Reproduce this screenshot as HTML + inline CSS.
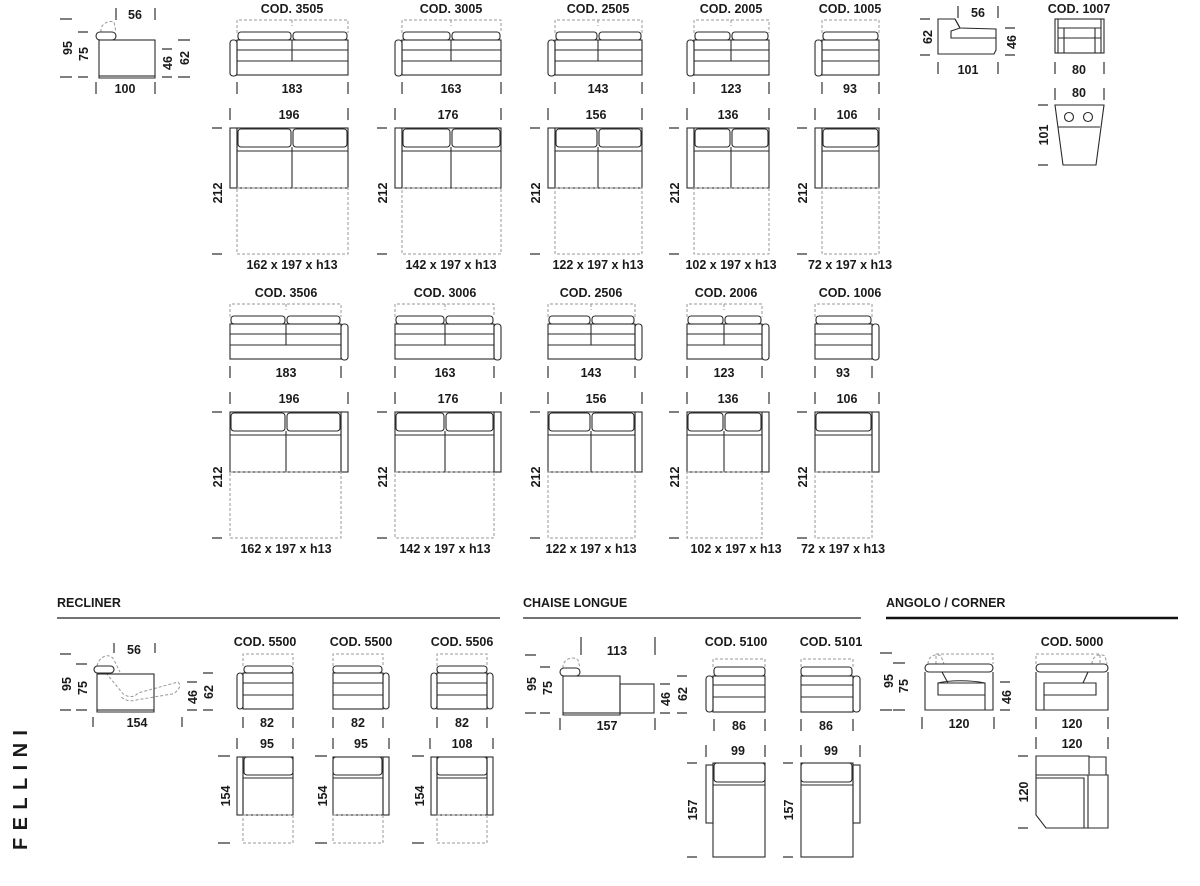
<!DOCTYPE html>
<html><head><meta charset="utf-8"><style>
html,body{margin:0;padding:0;background:#fff}
svg{display:block}
.s path,.s rect,.s circle,.s ellipse{fill:none;stroke:#2a2a2a;stroke-width:1.1}
.s .d{stroke:#999;stroke-dasharray:3 2;stroke-width:1}
.s .t{stroke:#333;stroke-width:1.2}
text{font-family:"Liberation Sans Narrow","Liberation Sans",sans-serif;font-weight:bold;font-size:12.5px;fill:#1a1a1a;text-anchor:middle}
.h{text-anchor:start;font-size:12.5px}
</style></head><body>
<svg class="s" width="1200" height="886" viewBox="0 0 1200 886" xmlns="http://www.w3.org/2000/svg">

<path class="t" d="M60 19H72M60 77H72M78 32H88M78 77H88M116 8V20M155 8V20M96 82V94M155 82V94M162 49H172M162 77H172M178 40H190M178 77H190"/>
<text transform="translate(72,48) rotate(-90)">95</text>
<text transform="translate(88,54) rotate(-90)">75</text>
<text x="135" y="19">56</text>
<text transform="translate(172,63) rotate(-90)">46</text>
<text transform="translate(189,58) rotate(-90)">62</text>
<text x="125" y="93">100</text>
<path class="d" d="M101 32C100 24 108 20 114 22L116 32"/>
<rect x="96" y="32" width="20" height="8" rx="4"/>
<rect x="99" y="40" width="56" height="36"/>
<path d="M99 76H155V78H99Z"/>

<g>
<text x="292" y="13">COD. 3505</text>
<path class="d" d="M237 33V20H348V33M292 20V26"/>
<rect x="238" y="32" width="53" height="8" rx="3"/><rect x="293" y="32" width="54" height="8" rx="3"/>
<rect x="237" y="40" width="111" height="35"/>
<path d="M237 50H348M237 61H348M292 40V61"/>
<rect x="230" y="40" width="7" height="36" rx="3"/>
<path class="t" d="M237 82V94M348 82V94M230 108V120M348 108V120M212 128H222M212 254H222"/>
<text x="292" y="93">183</text><text x="289" y="119">196</text>
<rect x="230" y="128" width="7" height="60"/><rect x="237" y="128" width="111" height="60"/>
<rect x="238" y="129" width="53" height="18" rx="3"/><rect x="293" y="129" width="54" height="18" rx="3"/>
<path d="M237 151H348M292 147V188"/>
<rect class="d" x="237" y="188" width="111" height="66"/>
<text transform="translate(222,193) rotate(-90)">212</text>
<text x="292" y="269">162 x 197 x h13</text>

<text x="451" y="13">COD. 3005</text>
<path class="d" d="M402 33V20H501V33M451 20V26"/>
<rect x="403" y="32" width="47" height="8" rx="3"/><rect x="452" y="32" width="48" height="8" rx="3"/>
<rect x="402" y="40" width="99" height="35"/>
<path d="M402 50H501M402 61H501M451 40V61"/>
<rect x="395" y="40" width="7" height="36" rx="3"/>
<path class="t" d="M402 82V94M501 82V94M395 108V120M501 108V120M377 128H387M377 254H387"/>
<text x="451" y="93">163</text><text x="448" y="119">176</text>
<rect x="395" y="128" width="7" height="60"/><rect x="402" y="128" width="99" height="60"/>
<rect x="403" y="129" width="47" height="18" rx="3"/><rect x="452" y="129" width="48" height="18" rx="3"/>
<path d="M402 151H501M451 147V188"/>
<rect class="d" x="402" y="188" width="99" height="66"/>
<text transform="translate(387,193) rotate(-90)">212</text>
<text x="451" y="269">142 x 197 x h13</text>

<text x="598" y="13">COD. 2505</text>
<path class="d" d="M555 33V20H642V33M598 20V26"/>
<rect x="556" y="32" width="41" height="8" rx="3"/><rect x="599" y="32" width="42" height="8" rx="3"/>
<rect x="555" y="40" width="87" height="35"/>
<path d="M555 50H642M555 61H642M598 40V61"/>
<rect x="548" y="40" width="7" height="36" rx="3"/>
<path class="t" d="M555 82V94M642 82V94M548 108V120M642 108V120M530 128H540M530 254H540"/>
<text x="598" y="93">143</text><text x="596" y="119">156</text>
<rect x="548" y="128" width="7" height="60"/><rect x="555" y="128" width="87" height="60"/>
<rect x="556" y="129" width="41" height="18" rx="3"/><rect x="599" y="129" width="42" height="18" rx="3"/>
<path d="M555 151H642M598 147V188"/>
<rect class="d" x="555" y="188" width="87" height="66"/>
<text transform="translate(540,193) rotate(-90)">212</text>
<text x="598" y="269">122 x 197 x h13</text>

<text x="731" y="13">COD. 2005</text>
<path class="d" d="M694 33V20H769V33M731 20V26"/>
<rect x="695" y="32" width="35" height="8" rx="3"/><rect x="732" y="32" width="36" height="8" rx="3"/>
<rect x="694" y="40" width="75" height="35"/>
<path d="M694 50H769M694 61H769M731 40V61"/>
<rect x="687" y="40" width="7" height="36" rx="3"/>
<path class="t" d="M694 82V94M769 82V94M687 108V120M769 108V120M669 128H679M669 254H679"/>
<text x="731" y="93">123</text><text x="728" y="119">136</text>
<rect x="687" y="128" width="7" height="60"/><rect x="694" y="128" width="75" height="60"/>
<rect x="695" y="129" width="35" height="18" rx="3"/><rect x="732" y="129" width="36" height="18" rx="3"/>
<path d="M694 151H769M731 147V188"/>
<rect class="d" x="694" y="188" width="75" height="66"/>
<text transform="translate(679,193) rotate(-90)">212</text>
<text x="731" y="269">102 x 197 x h13</text>

<text x="850" y="13">COD. 1005</text>
<path class="d" d="M822 33V20H879V33"/>
<rect x="823" y="32" width="55" height="8" rx="3"/>
<rect x="822" y="40" width="57" height="35"/>
<path d="M822 50H879M822 61H879"/>
<rect x="815" y="40" width="7" height="36" rx="3"/>
<path class="t" d="M822 82V94M879 82V94M815 108V120M879 108V120M797 128H807M797 254H807"/>
<text x="850" y="93">93</text><text x="847" y="119">106</text>
<rect x="815" y="128" width="7" height="60"/><rect x="822" y="128" width="57" height="60"/>
<rect x="823" y="129" width="55" height="18" rx="3"/>
<path d="M822 151H879"/>
<rect class="d" x="822" y="188" width="57" height="66"/>
<text transform="translate(807,193) rotate(-90)">212</text>
<text x="850" y="269">72 x 197 x h13</text>
</g>

<g transform="translate(0,284)">
<text x="286" y="13">COD. 3506</text>
<path class="d" d="M230 33V20H341V33M286 20V26"/>
<rect x="231" y="32" width="54" height="8" rx="3"/><rect x="287" y="32" width="53" height="8" rx="3"/>
<rect x="230" y="40" width="111" height="35"/>
<path d="M230 50H341M230 61H341M286 40V61"/>
<rect x="341" y="40" width="7" height="36" rx="3"/>
<path class="t" d="M230 82V94M341 82V94M230 108V120M348 108V120M212 128H222M212 254H222"/>
<text x="286" y="93">183</text><text x="289" y="119">196</text>
<rect x="230" y="128" width="111" height="60"/><rect x="341" y="128" width="7" height="60"/>
<rect x="231" y="129" width="54" height="18" rx="3"/><rect x="287" y="129" width="53" height="18" rx="3"/>
<path d="M230 151H341M286 147V188"/>
<rect class="d" x="230" y="188" width="111" height="66"/>
<text transform="translate(222,193) rotate(-90)">212</text>
<text x="286" y="269">162 x 197 x h13</text>

<text x="445" y="13">COD. 3006</text>
<path class="d" d="M395 33V20H494V33M445 20V26"/>
<rect x="396" y="32" width="48" height="8" rx="3"/><rect x="446" y="32" width="47" height="8" rx="3"/>
<rect x="395" y="40" width="99" height="35"/>
<path d="M395 50H494M395 61H494M445 40V61"/>
<rect x="494" y="40" width="7" height="36" rx="3"/>
<path class="t" d="M395 82V94M494 82V94M395 108V120M501 108V120M377 128H387M377 254H387"/>
<text x="445" y="93">163</text><text x="448" y="119">176</text>
<rect x="395" y="128" width="99" height="60"/><rect x="494" y="128" width="7" height="60"/>
<rect x="396" y="129" width="48" height="18" rx="3"/><rect x="446" y="129" width="47" height="18" rx="3"/>
<path d="M395 151H494M445 147V188"/>
<rect class="d" x="395" y="188" width="99" height="66"/>
<text transform="translate(387,193) rotate(-90)">212</text>
<text x="445" y="269">142 x 197 x h13</text>

<text x="591" y="13">COD. 2506</text>
<path class="d" d="M548 33V20H635V33M591 20V26"/>
<rect x="549" y="32" width="41" height="8" rx="3"/><rect x="592" y="32" width="42" height="8" rx="3"/>
<rect x="548" y="40" width="87" height="35"/>
<path d="M548 50H635M548 61H635M591 40V61"/>
<rect x="635" y="40" width="7" height="36" rx="3"/>
<path class="t" d="M548 82V94M635 82V94M548 108V120M642 108V120M530 128H540M530 254H540"/>
<text x="591" y="93">143</text><text x="596" y="119">156</text>
<rect x="548" y="128" width="87" height="60"/><rect x="635" y="128" width="7" height="60"/>
<rect x="549" y="129" width="41" height="18" rx="3"/><rect x="592" y="129" width="42" height="18" rx="3"/>
<path d="M548 151H635M591 147V188"/>
<rect class="d" x="548" y="188" width="87" height="66"/>
<text transform="translate(540,193) rotate(-90)">212</text>
<text x="591" y="269">122 x 197 x h13</text>

<text x="726" y="13">COD. 2006</text>
<path class="d" d="M687 33V20H762V33M724 20V26"/>
<rect x="688" y="32" width="35" height="8" rx="3"/><rect x="725" y="32" width="36" height="8" rx="3"/>
<rect x="687" y="40" width="75" height="35"/>
<path d="M687 50H762M687 61H762M724 40V61"/>
<rect x="762" y="40" width="7" height="36" rx="3"/>
<path class="t" d="M687 82V94M762 82V94M687 108V120M769 108V120M669 128H679M669 254H679"/>
<text x="724" y="93">123</text><text x="728" y="119">136</text>
<rect x="687" y="128" width="75" height="60"/><rect x="762" y="128" width="7" height="60"/>
<rect x="688" y="129" width="35" height="18" rx="3"/><rect x="725" y="129" width="36" height="18" rx="3"/>
<path d="M687 151H762M724 147V188"/>
<rect class="d" x="687" y="188" width="75" height="66"/>
<text transform="translate(679,193) rotate(-90)">212</text>
<text x="736" y="269">102 x 197 x h13</text>

<text x="850" y="13">COD. 1006</text>
<path class="d" d="M815 33V20H872V33"/>
<rect x="816" y="32" width="55" height="8" rx="3"/>
<rect x="815" y="40" width="57" height="35"/>
<path d="M815 50H872M815 61H872"/>
<rect x="872" y="40" width="7" height="36" rx="3"/>
<path class="t" d="M815 82V94M872 82V94M815 108V120M879 108V120M797 128H807M797 254H807"/>
<text x="843" y="93">93</text><text x="847" y="119">106</text>
<rect x="815" y="128" width="57" height="60"/><rect x="872" y="128" width="7" height="60"/>
<rect x="816" y="129" width="55" height="18" rx="3"/>
<path d="M815 151H872"/>
<rect class="d" x="815" y="188" width="57" height="66"/>
<text transform="translate(807,193) rotate(-90)">212</text>
<text x="843" y="269">72 x 197 x h13</text>
</g>

<path class="t" d="M958 6V18M998 6V18M920 19H930M920 55H930M1005 28H1015M1005 55H1015M938 62V74M998 62V74"/>
<text x="978" y="17">56</text>
<text transform="translate(932,37) rotate(-90)">62</text>
<text transform="translate(1016,42) rotate(-90)">46</text>
<text x="968" y="74">101</text>
<path d="M938 19H955L960 28L951 31V38H996V50L994 54H938Z"/>
<path d="M955 19L960 28L996 29V38"/>
<text x="1079" y="13">COD. 1007</text>
<rect x="1055" y="19" width="49" height="34"/>
<path d="M1058 19V53M1101 19V53M1058 28H1101M1058 38H1101M1064 28V53M1095 28V53"/>
<path class="t" d="M1055 62V74M1104 62V74M1055 88V100M1104 88V100M1038 105H1048M1038 165H1048"/>
<text x="1079" y="74">80</text><text x="1079" y="97">80</text>
<path d="M1055 105H1104L1096 165H1063Z M1058 127H1100"/>
<circle cx="1069" cy="117" r="4.5"/><circle cx="1088" cy="117" r="4.5"/>
<text transform="translate(1048,135) rotate(-90)">101</text>

<text class="h" x="57" y="607">RECLINER</text>
<text class="h" x="523" y="607">CHAISE LONGUE</text>
<text class="h" x="886" y="607">ANGOLO / CORNER</text>
<path d="M57 618H500M523 618H861" style="stroke:#222;stroke-width:1.3"/>
<path d="M886 618H1178" style="stroke:#111;stroke-width:2.6"/>

<path class="t" d="M60 654H71M76 664H87M60 710H71M76 710H87M114 643V653M155 643V653M93 717V727M182 717V727M187 682H197M187 710H197M203 673H213M203 710H213"/>
<text transform="translate(71,684) rotate(-90)">95</text>
<text transform="translate(87,688) rotate(-90)">75</text>
<text x="134" y="654">56</text>
<text transform="translate(197,697) rotate(-90)">46</text>
<text transform="translate(213,692) rotate(-90)">62</text>
<text x="137" y="727">154</text>
<path class="d" d="M97 666C99 656 110 652 114 660L120 672M106 673L120 690C124 697 133 699 138 693L178 682C182 686 178 692 172 694L136 700C130 702 124 700 120 696"/>
<rect x="94" y="666" width="20" height="7" rx="3.5"/>
<rect x="97" y="674" width="57" height="36"/>
<path d="M97 710H154V712H97Z"/>

<text x="265" y="646">COD. 5500</text>
<path class="d" d="M243 666V654H293V666"/>
<rect x="244" y="666" width="49" height="7" rx="3"/>
<rect x="243" y="673" width="50" height="36"/>
<path d="M243 683H293M243 695H293"/>
<rect x="237" y="673" width="6" height="36" rx="3"/>
<path class="t" d="M243 717V728M293 717V728M237 738V749M293 738V749M218 756H230M218 843H230"/>
<text x="267" y="727">82</text><text x="267" y="748">95</text>
<rect x="237" y="757" width="6" height="58"/><rect x="243" y="757" width="50" height="58"/>
<rect x="244" y="757" width="49" height="18" rx="3"/><path d="M243 778H293"/>
<rect class="d" x="243" y="815" width="50" height="28"/>
<text transform="translate(230,796) rotate(-90)">154</text>
<text x="361" y="646">COD. 5500</text>
<path class="d" d="M333 666V654H383V666"/>
<rect x="333" y="666" width="49" height="7" rx="3"/>
<rect x="333" y="673" width="50" height="36"/>
<path d="M333 683H383M333 695H383"/>
<rect x="383" y="673" width="6" height="36" rx="3"/>
<path class="t" d="M333 717V728M383 717V728M333 738V749M389 738V749M315 756H327M315 843H327"/>
<text x="358" y="727">82</text><text x="361" y="748">95</text>
<rect x="333" y="757" width="50" height="58"/><rect x="383" y="757" width="6" height="58"/>
<rect x="333" y="757" width="49" height="18" rx="3"/><path d="M333 778H383"/>
<rect class="d" x="333" y="815" width="50" height="28"/>
<text transform="translate(327,796) rotate(-90)">154</text>
<text x="462" y="646">COD. 5506</text>
<path class="d" d="M437 666V654H487V666"/>
<rect x="437" y="666" width="50" height="7" rx="3"/>
<rect x="437" y="673" width="50" height="36"/>
<path d="M437 683H487M437 695H487"/>
<rect x="431" y="673" width="6" height="36" rx="3"/><rect x="487" y="673" width="6" height="36" rx="3"/>
<path class="t" d="M437 717V728M487 717V728M430 738V749M493 738V749M412 756H424M412 843H424"/>
<text x="462" y="727">82</text><text x="462" y="748">108</text>
<rect x="431" y="757" width="6" height="58"/><rect x="437" y="757" width="50" height="58"/><rect x="487" y="757" width="6" height="58"/>
<rect x="437" y="757" width="50" height="18" rx="3"/><path d="M437 778H487"/>
<rect class="d" x="437" y="815" width="50" height="28"/>
<text transform="translate(424,796) rotate(-90)">154</text>

<path class="t" d="M525 655H536M540 667H550M525 713H536M540 713H550M581 637V655M655 637V655M560 718V730M655 718V730M660 684H670M660 713H670M677 676H687M677 713H687"/>
<text transform="translate(536,684) rotate(-90)">95</text>
<text transform="translate(552,688) rotate(-90)">75</text>
<text x="617" y="655">113</text>
<text transform="translate(670,699) rotate(-90)">46</text>
<text transform="translate(687,694) rotate(-90)">62</text>
<text x="607" y="730">157</text>
<path class="d" d="M563 668C562 660 572 655 578 660L580 668"/>
<rect x="560" y="668" width="20" height="8" rx="4"/>
<rect x="563" y="676" width="57" height="37"/>
<rect x="620" y="684" width="34" height="29"/>
<path d="M563 713H620V715H563Z"/>
<text x="736" y="646">COD. 5100</text>
<path class="d" d="M713 667V659H765V667"/>
<rect x="714" y="667" width="51" height="9" rx="3"/>
<rect x="713" y="676" width="52" height="36"/>
<path d="M713 685H765M713 697H765"/>
<rect x="706" y="676" width="7" height="36" rx="3"/>
<path class="t" d="M714 719V731M765 719V731M706 745V757M765 745V757M687 763H697M687 857H697"/>
<text x="739" y="730">86</text><text x="738" y="755">99</text>
<rect x="706" y="765" width="7" height="58"/><rect x="713" y="763" width="52" height="94"/>
<rect x="714" y="763" width="51" height="19" rx="3"/><path d="M713 785H765"/>
<text transform="translate(697,810) rotate(-90)">157</text>
<text x="831" y="646">COD. 5101</text>
<path class="d" d="M801 667V659H853V667"/>
<rect x="801" y="667" width="51" height="9" rx="3"/>
<rect x="801" y="676" width="52" height="36"/>
<path d="M801 685H853M801 697H853"/>
<rect x="853" y="676" width="7" height="36" rx="3"/>
<path class="t" d="M801 719V731M853 719V731M801 745V757M860 745V757M783 763H793M783 857H793"/>
<text x="826" y="730">86</text><text x="831" y="755">99</text>
<rect x="801" y="763" width="52" height="94"/><rect x="853" y="765" width="7" height="58"/>
<rect x="801" y="763" width="51" height="19" rx="3"/><path d="M801 785H853"/>
<text transform="translate(793,810) rotate(-90)">157</text>

<path class="t" d="M880 653H892M893 663H905M880 710H892M893 710H905M922 717V729M994 717V729M1000 682H1010M1000 710H1010"/>
<text transform="translate(893,681) rotate(-90)">95</text>
<text transform="translate(908,686) rotate(-90)">75</text>
<text transform="translate(1011,697) rotate(-90)">46</text>
<text x="959" y="728">120</text>
<path class="d" d="M928 664C928 656 936 653 941 656L944 664M936 664V654H993V664"/>
<rect x="925" y="664" width="68" height="8" rx="4"/>
<path d="M925 672V710H993V672M942 672L948 683M938 683H985V695H938Z M938 683C950 680 970 680 985 683M985 695V710"/>
<text x="1072" y="646">COD. 5000</text>
<path class="d" d="M1036 664V654H1100V664M1092 664C1092 656 1100 653 1105 656L1107 664"/>
<rect x="1036" y="664" width="72" height="8" rx="4"/>
<path d="M1036 672V710H1108V672M1088 672L1083 683M1044 683H1096V695H1044Z M1044 683V710"/>
<path class="t" d="M1036 717V729M1108 717V729M1036 737V749M1108 737V749M1018 756H1028M1018 828H1028"/>
<text x="1072" y="728">120</text><text x="1072" y="748">120</text>
<path d="M1036 756H1089V775H1108V828H1046L1036 815Z"/>
<path d="M1036 775H1088M1036 778H1084V828M1088 775V828M1089 757H1106V775"/>
<text transform="translate(1028,792) rotate(-90)">120</text>

<text transform="translate(27,850) rotate(-90)" style="text-anchor:start;font-family:'Liberation Sans',sans-serif;font-size:20px" textLength="120" lengthAdjust="spacing">FELLINI</text>
</svg>
</body></html>
